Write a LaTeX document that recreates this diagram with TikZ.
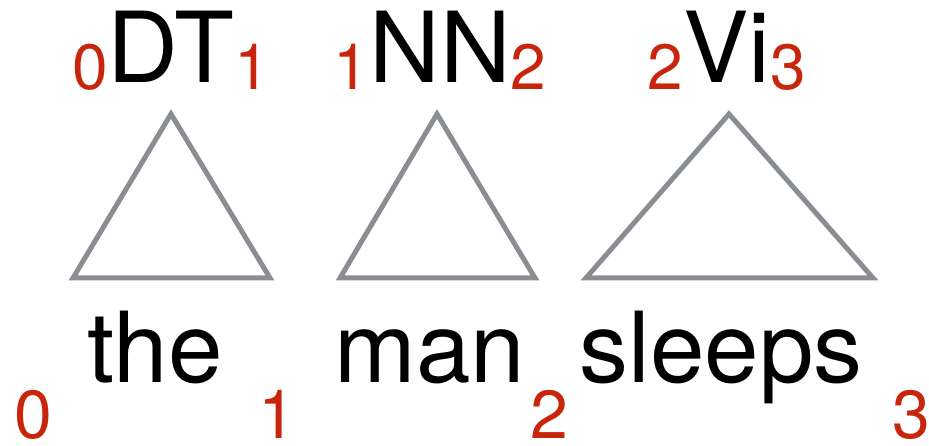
\documentclass[tikz,border=0pt]{standalone}
\usepackage{fontspec}
\setmainfont{TeX Gyre Heros}
\usepackage{xcolor}
\usepackage{tikz}

\definecolor{idxred}{RGB}{200,38,12}
\definecolor{trigray}{RGB}{138,141,145}
\newcommand{\subsz}{\fontsize{64}{66}\selectfont}
\newcommand{\spanlab}[3]{\raisebox{-7pt}{\subsz\color{idxred}#1}#2\raisebox{-7pt}{\subsz\color{idxred}#3}}

\begin{document}
\begin{tikzpicture}[
    x=1pt, y=-1pt,
    lab/.style={anchor=base, inner sep=0pt, font=\fontsize{98}{100}\selectfont},
    idx/.style={anchor=base, inner sep=0pt, text=idxred, font=\fontsize{68}{70}\selectfont},
    tri/.style={draw=trigray, line width=5pt},
]
\useasboundingbox (0,0) rectangle (929,446);

% categories with spans
\node[lab] (dt) at (171,83) {\spanlab{0}{DT}{1}};
\node[lab] (nn) at (440,83) {\spanlab{1}{NN}{2}};
\node[lab] (vi) at (727,83) {\spanlab{2}{Vi}{3}};

% triangles
\draw[tri] (171,114) -- (270,278) -- (73,278) -- cycle;
\draw[tri] (437,114) -- (535,278) -- (340,278) -- cycle;
\draw[tri] (729,114) -- (873,278) -- (586,278) -- cycle;

% words
\node[lab] (the) at (155,382) {the};
\node[lab] (man) at (430,382) {man};
\node[lab] (sleeps) at (721,382) {sleeps};

% positions
\node[idx] (p0) at (33,438) {0};
\node[idx] (p1) at (277,438) {1};
\node[idx] (p2) at (549,438) {2};
\node[idx] (p3) at (911,438) {3};

\end{tikzpicture}
\end{document}
